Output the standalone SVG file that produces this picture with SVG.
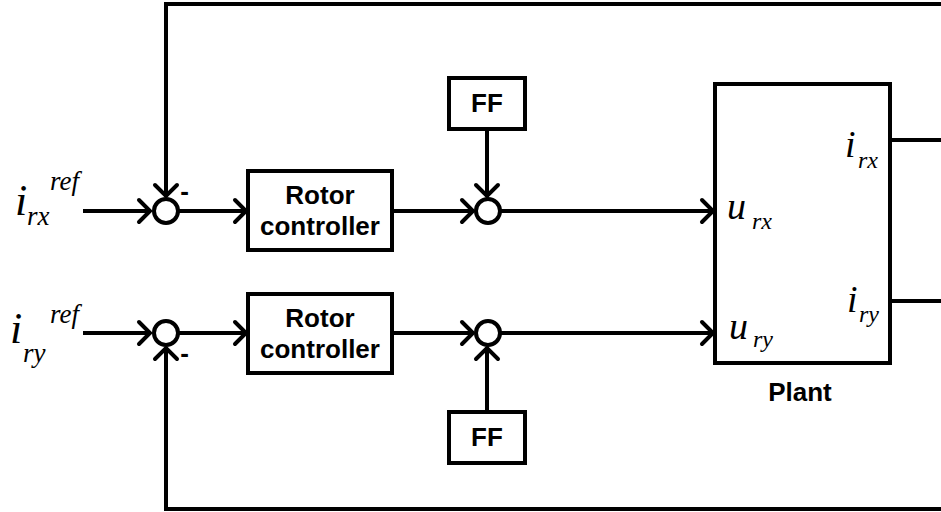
<svg xmlns="http://www.w3.org/2000/svg" width="941" height="512" viewBox="0 0 941 512">
<style>
.ln{fill:none;stroke:#000;stroke-width:4}
.bx{fill:#fff;stroke:#000;stroke-width:4}
.lbl{font-family:"Liberation Sans",Arial,sans-serif;font-weight:bold;font-size:26px;text-anchor:middle;fill:#000}
.m{font-family:"Liberation Serif","Times New Roman",serif;font-style:italic;fill:#000}
.big{font-size:44px}
.mid{font-size:38px}
.sub{font-size:27px}
.sm{font-size:24px}
</style>
<defs>
<marker id="arr" markerUnits="userSpaceOnUse" viewBox="0 0 18 28" markerWidth="18" markerHeight="28" refX="15" refY="14" orient="auto">
<path d="M3,3 L14,14 L3,25" fill="none" stroke="#000" stroke-width="4" stroke-linecap="round" stroke-linejoin="miter"/>
</marker>
</defs>
<rect width="941" height="512" fill="#fff"/>
<g id="connectors">
<path class="ln" d="M83,211 H151" marker-end="url(#arr)"/>
<path class="ln" d="M178,211 H247" marker-end="url(#arr)"/>
<path class="ln" d="M392,211 H474" marker-end="url(#arr)"/>
<path class="ln" d="M500,211 H714" marker-end="url(#arr)"/>
<path class="ln" d="M487,129 V197" marker-end="url(#arr)"/>
<path class="ln" d="M890,140 H945 V4 H166 V197" marker-end="url(#arr)"/>
<path class="ln" d="M83,333 H151" marker-end="url(#arr)"/>
<path class="ln" d="M178,333 H247" marker-end="url(#arr)"/>
<path class="ln" d="M392,333 H474" marker-end="url(#arr)"/>
<path class="ln" d="M500,333 H714" marker-end="url(#arr)"/>
<path class="ln" d="M487,412 V347" marker-end="url(#arr)"/>
<path class="ln" d="M890,301 H945 V509 H166 V347" marker-end="url(#arr)"/>
</g>
<g id="input_x">
<text class="m big" x="15" y="215">i</text>
<text class="m sub" x="27" y="225">rx</text>
<text class="m sub" x="50" y="190">ref</text>
</g>
<g id="input_y">
<text class="m big" x="10" y="343">i</text>
<text class="m sub" x="23" y="362">ry</text>
<text class="m sub" x="50" y="323">ref</text>
</g>
<g id="sum1">
<circle class="bx" cx="166" cy="211" r="12"/>
<text class="lbl" x="184.5" y="200">-</text>
</g>
<g id="sum2">
<circle class="bx" cx="166" cy="333" r="12"/>
<text class="lbl" x="184.5" y="362">-</text>
</g>
<g id="controller1">
<rect class="bx" x="248" y="171" width="144" height="79"/>
<text class="lbl" x="320" y="204">Rotor</text>
<text class="lbl" x="320" y="235">controller</text>
</g>
<g id="controller2">
<rect class="bx" x="248" y="294" width="144" height="79"/>
<text class="lbl" x="320" y="327">Rotor</text>
<text class="lbl" x="320" y="358">controller</text>
</g>
<g id="ff1">
<rect class="bx" x="449" y="78" width="76" height="51"/>
<text class="lbl" x="487" y="112">FF</text>
</g>
<g id="ff2">
<rect class="bx" x="449" y="412" width="76" height="51"/>
<text class="lbl" x="487" y="446">FF</text>
</g>
<g id="sumff1">
<circle class="bx" cx="488" cy="211" r="12"/>
</g>
<g id="sumff2">
<circle class="bx" cx="488" cy="333" r="12"/>
</g>
<g id="plant">
<rect class="bx" x="715" y="84" width="175" height="279"/>
<text class="m mid" x="727" y="219">u</text>
<text class="m sm" x="752" y="229">rx</text>
<text class="m mid" x="729" y="339">u</text>
<text class="m sm" x="753" y="347">ry</text>
<text class="m mid" x="845" y="157">i</text>
<text class="m sm" x="858" y="168">rx</text>
<text class="m mid" x="847" y="312">i</text>
<text class="m sm" x="859" y="322">ry</text>
<text class="lbl" x="800" y="401">Plant</text>
</g>
</svg>
